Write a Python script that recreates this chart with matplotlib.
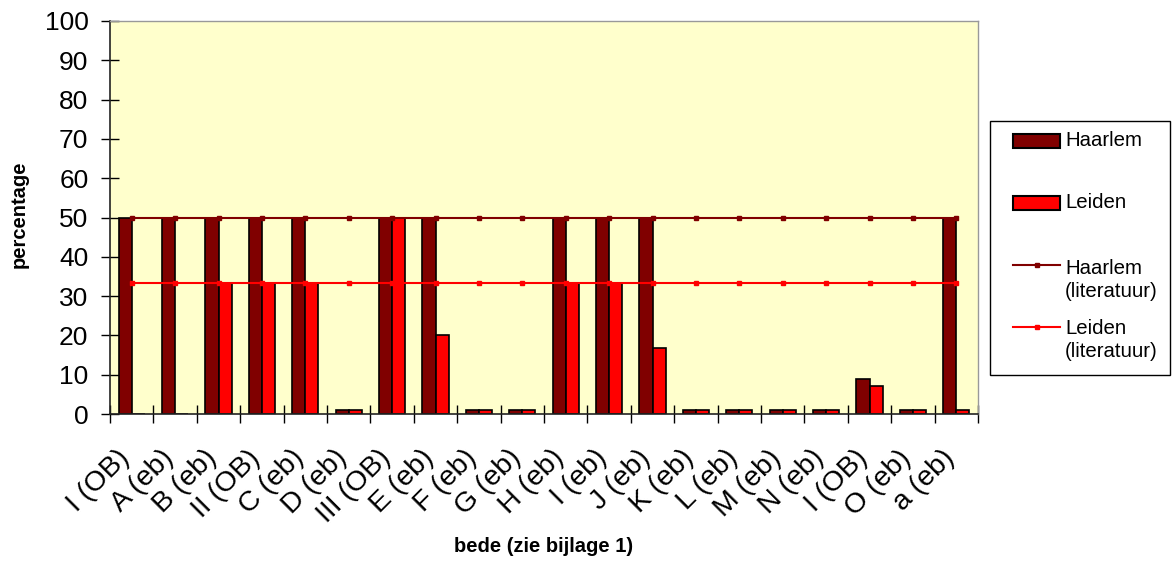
import numpy as np
import matplotlib

matplotlib.use("Agg")

import matplotlib.pyplot as plt
import matplotlib.transforms as mtransforms
from matplotlib.lines import Line2D
from matplotlib.patches import Rectangle

plt.rcParams["font.family"] = ["Liberation Sans", "DejaVu Sans"]

# Data
categories = ["I (OB)", "A (eb)", "B (eb)", "II (OB)", "C (eb)", "D (eb)",
              "III (OB)", "E (eb)", "F (eb)", "G (eb)", "H (eb)", "I (eb)",
              "J (eb)", "K (eb)", "L (eb)", "M (eb)", "N (eb)", "I (OB)",
              "O (eb)", "a (eb)"]
haarlem = [50, 50, 50, 50, 50, 1, 50, 50, 1, 1, 50, 50, 50, 1, 1, 1, 1, 9, 1, 50]
leiden = [0, 0, 33.3, 33.3, 33.3, 1, 50, 20, 1, 1, 33.3, 33.3, 16.7, 1, 1, 1, 1, 7, 1, 1]
haarlem_lit = [50] * len(categories)
leiden_lit = [33.3] * len(categories)

DARK = "#800000"
RED = "#FF0000"
W, H = 1172, 561

fig = plt.figure(figsize=(W / 100, H / 100), dpi=100)
ax = fig.add_axes([110 / W, 1 - 414 / H, 868 / W, 393 / H])
ax.set_facecolor("#FFFFCC")

x = np.arange(len(categories))
w = 0.3
ax.bar(x - w / 2, haarlem, w, color=DARK, edgecolor="black", linewidth=1.2, zorder=2)
ax.bar(x + w / 2, leiden, w, color=RED, edgecolor="black", linewidth=1.2, zorder=2)
ax.plot(x, haarlem_lit, color=DARK, lw=1.5, marker="s", ms=3, zorder=3)
ax.plot(x, leiden_lit, color=RED, lw=1.5, marker="s", ms=3, zorder=3)

ax.set_xlim(-0.5, len(categories) - 0.5)
ax.set_ylim(0, 100)
ax.set_yticks(np.arange(0, 101, 10))
ax.tick_params(axis="y", direction="inout", length=13, width=1, labelsize=19, pad=9)

ax.set_xticks(x)
ax.set_xticklabels(categories, rotation=45, ha="right", va="top",
                   rotation_mode="anchor", fontsize=20.5)
ax.tick_params(axis="x", which="major", length=0, pad=0)
shift = mtransforms.ScaledTranslation(-15 / 100, -31 / 100, fig.dpi_scale_trans)
for lbl in ax.get_xticklabels():
    lbl.set_transform(lbl.get_transform() + shift)
ax.set_xticks(np.arange(-0.5, len(categories), 1), minor=True)
ax.tick_params(axis="x", which="minor", direction="inout", length=13, width=1)

for s in ["left", "bottom"]:
    ax.spines[s].set_color("#222222")
    ax.spines[s].set_linewidth(1.2)
for s in ["top", "right"]:
    ax.spines[s].set_color("#999999")
    ax.spines[s].set_linewidth(1.0)

fig.text(19 / W, 1 - 214 / H, "percentage", rotation=90, ha="center", va="center",
         fontsize=14.5, fontweight="bold")
fig.text(544 / W, 1 - 547 / H, "bede (zie bijlage 1)", ha="center", va="center",
         fontsize=14.5, fontweight="bold")


# legend drawn by hand in figure pixels, Excel-style spacing
def fx(px):
    return px / W


def fy(py):
    return 1 - py / H


fig.patches.append(Rectangle((fx(990), fy(375)), 180 / W, 254 / H,
                             transform=fig.transFigure, facecolor="white",
                             edgecolor="black", linewidth=1.0))
for color, yc in [(DARK, 141), (RED, 203)]:
    fig.patches.append(Rectangle((fx(1013), fy(yc + 7)), 47 / W, 14 / H,
                                 transform=fig.transFigure, facecolor=color,
                                 edgecolor="black", linewidth=1.5))
for color, yc in [(DARK, 265), (RED, 327)]:
    fig.lines.append(Line2D([fx(1013), fx(1060)], [fy(yc), fy(yc)],
                            transform=fig.transFigure, color=color, lw=1.5))
    fig.lines.append(Line2D([fx(1037)], [fy(yc)], transform=fig.transFigure,
                            color=color, marker="s", ms=3))

legend_labels = ["Haarlem", "Leiden", "Haarlem\n(literatuur)", "Leiden\n(literatuur)"]
for label, yc in zip(legend_labels, [141, 203, 280, 340]):
    fig.text(fx(1065), fy(yc), label, ha="left", va="center", fontsize=14.7,
             linespacing=1.25)

fig.savefig("out.png", dpi=100)
